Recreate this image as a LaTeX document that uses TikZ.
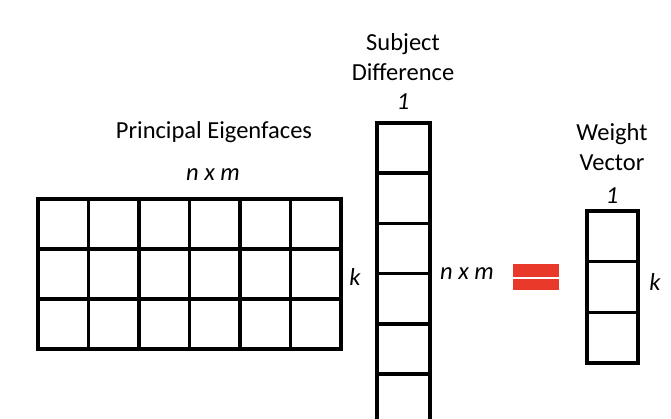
\documentclass[tikz,border=0pt]{standalone}
\usepackage{fontspec}
\setmainfont{Carlito}
\usetikzlibrary{positioning}
\definecolor{eqred}{HTML}{E8392A}

\begin{document}
\begin{tikzpicture}[
		x=1pt, y=-1pt,
		gridline/.style={draw, line width=3.4pt},
		title/.style={font=\fontsize{24.5}{30.5}\selectfont, align=center, inner sep=0pt},
		dimtext/.style={font=\fontsize{24.5}{30}\selectfont\itshape, inner sep=0pt}
	]
	\useasboundingbox (0,0) rectangle (671,419);
	\clip (0,0) rectangle (671,419);

	% Matrices
	\foreach \i in {0,...,5}
		\foreach \j in {0,...,2}
			\draw[gridline] (38+50.5*\i,199+50*\j) rectangle ++(50.5,50);
	\foreach \j in {0,...,5}
		\draw[gridline] (377,123+50.2*\j) rectangle ++(53,50.2);
	\foreach \j in {0,...,2}
		\draw[gridline] (587,211+50.7*\j) rectangle ++(51,50.7);

	% Equals sign
	\fill[eqred] (513,264) rectangle (559,277);
	\fill[eqred] (513,279) rectangle (559,290);

	% Labels
	\node[title] (eigen) at (214,132) {Principal Eigenfaces};
	\node[dimtext] (eigendim) at (213,175) {n x m};
	\node[dimtext] (eigenk) at (355,277) {k};

	\node[title] (subject) at (403,57) {Subject\\Difference};
	\node[dimtext] (subjone) at (403,102) {1};
	\node[dimtext] (subjdim) at (467,274) {n x m};

	\node[title] (weight) at (612,147) {Weight\\Vector};
	\node[dimtext] (weightone) at (612,196) {1};
	\node[dimtext] (weightk) at (655,282) {k};

\end{tikzpicture}
\end{document}
